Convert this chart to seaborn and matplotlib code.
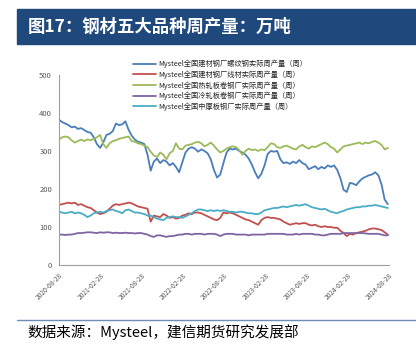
import matplotlib
matplotlib.use('Agg')
import matplotlib.pyplot as plt
import numpy as np
import pandas as pd
import seaborn as sns

dates = pd.date_range('2020-08-28', periods=105, freq='14D')

rebar = [382, 376, 372, 368, 362, 364, 358, 360, 355, 350, 348, 336, 318, 308, 322, 342, 345, 352, 372, 368,
         370, 378, 356, 340, 330, 324, 322, 318, 290, 248, 272, 280, 268, 276, 272, 262, 268, 258, 244, 270,
         296, 306, 310, 306, 298, 304, 300, 294, 278, 250, 230, 238, 268, 296, 306, 304, 306, 300, 296, 290,
         280, 264, 244, 228, 240, 262, 292, 300, 298, 300, 278, 268, 270, 266, 272, 268, 276, 268, 264, 252,
         256, 260, 252, 258, 254, 262, 258, 262, 250, 228, 198, 192, 216, 214, 210, 220, 228, 232, 236, 238,
         244, 236, 212, 172, 160]
wire = [158, 160, 162, 164, 162, 164, 158, 160, 156, 152, 150, 144, 138, 134, 136, 140, 148, 156, 160, 158,
        160, 162, 164, 162, 158, 154, 152, 150, 148, 114, 130, 128, 126, 134, 130, 124, 126, 122, 124, 130,
        132, 136, 134, 138, 138, 136, 132, 128, 124, 120, 118, 124, 138, 136, 138, 136, 132, 128, 124, 120,
        118, 114, 110, 106, 118, 124, 126, 124, 124, 122, 120, 114, 110, 106, 108, 110, 108, 110, 110, 106,
        104, 106, 102, 100, 102, 100, 100, 98, 98, 90, 84, 76, 82, 80, 84, 86, 88, 90, 94, 96,
        96, 94, 92, 86, 80]
hrc = [330, 336, 338, 336, 328, 322, 326, 330, 326, 330, 328, 332, 336, 342, 318, 308, 320, 326, 328, 332,
       334, 336, 338, 326, 324, 320, 318, 314, 310, 298, 288, 284, 296, 290, 278, 294, 300, 320, 306, 304,
       314, 316, 318, 322, 324, 320, 312, 316, 322, 314, 304, 296, 300, 306, 310, 312, 310, 302, 290, 300,
       306, 302, 304, 300, 304, 302, 310, 320, 318, 310, 308, 312, 314, 310, 306, 304, 312, 316, 310, 306,
       312, 310, 314, 318, 322, 318, 310, 306, 296, 304, 312, 314, 316, 318, 320, 322, 318, 322, 320, 324,
       326, 322, 316, 304, 308]
cold = [80, 80, 79, 80, 80, 82, 84, 84, 85, 86, 86, 85, 84, 86, 85, 86, 86, 84, 85, 84,
        84, 85, 84, 84, 83, 84, 84, 82, 80, 76, 74, 78, 78, 76, 74, 76, 76, 78, 80, 80,
        82, 82, 80, 82, 82, 82, 80, 82, 82, 82, 80, 76, 80, 82, 82, 82, 80, 80, 80, 80,
        78, 80, 80, 80, 80, 80, 82, 82, 82, 82, 82, 82, 80, 80, 80, 82, 80, 82, 82, 82,
        82, 80, 80, 78, 78, 80, 82, 82, 82, 82, 84, 84, 84, 84, 84, 84, 84, 83, 82, 82,
        82, 82, 80, 78, 78]
plate = [140, 138, 136, 138, 140, 136, 138, 136, 132, 126, 130, 136, 138, 140, 138, 142, 144, 146, 142, 140,
         136, 144, 146, 142, 138, 138, 136, 134, 130, 130, 126, 122, 120, 118, 124, 126, 128, 126, 126, 124,
         128, 132, 136, 142, 146, 146, 144, 142, 144, 142, 144, 142, 144, 142, 140, 140, 138, 140, 140, 138,
         136, 136, 134, 134, 138, 144, 146, 148, 150, 150, 152, 154, 152, 154, 156, 158, 156, 158, 160, 156,
         152, 150, 148, 146, 148, 144, 140, 138, 136, 140, 142, 146, 148, 150, 152, 152, 154, 154, 156, 156,
         158, 156, 154, 152, 150]

names = ['Mysteel全国建材钢厂螺纹钢实际周产量（周）',
         'Mysteel全国建材钢厂线材实际周产量（周）',
         'Mysteel全国热轧板卷钢厂实际周产量（周）',
         'Mysteel全国冷轧板卷钢厂实际周产量（周）',
         'Mysteel全国中厚板钢厂实际周产量（周）']
colors = ['#4A7EBB', '#C0504D', '#9BBB59', '#8064A2', '#4BACC6']
tick_dates = ['2020-08-28', '2021-02-28', '2021-08-28', '2022-02-28', '2022-08-28',
              '2023-02-28', '2023-08-28', '2024-02-28', '2024-08-28']

df = pd.DataFrame({'date': dates, names[0]: rebar, names[1]: wire, names[2]: hrc,
                   names[3]: cold, names[4]: plate})
long = df.melt(id_vars='date', var_name='series', value_name='value')

sns.set_style('white')
plt.rcParams['font.family'] = ['Noto Sans CJK SC', 'DejaVu Sans']

fig = plt.figure(figsize=(4.16, 3.55), dpi=100)
ax = fig.add_axes([0.1418, 0.2535, 0.7932, 0.5355])

sns.lineplot(data=long, x='date', y='value', hue='series', palette=colors,
             hue_order=names, linewidth=1.3, ax=ax)

ax.set_xlim(pd.Timestamp('2020-08-28'), pd.Timestamp('2024-08-28'))
ax.set_ylim(0, 500)
ax.set_yticks([0, 100, 200, 300, 400, 500])
ax.set_xticks(pd.to_datetime(tick_dates))
ax.set_xticklabels(tick_dates, rotation=45, ha='right', rotation_mode='anchor',
                   fontsize=4.8, color='#595959')
ax.tick_params(axis='y', labelsize=5.5, labelcolor='#595959', length=3, color='#A0A0A0', width=0.6, pad=2)
ax.tick_params(axis='x', length=3, color='#A0A0A0', width=0.6, pad=2)
ax.set_xlabel('')
ax.set_ylabel('')
for s in ['top', 'right']:
    ax.spines[s].set_visible(False)
for s in ['left', 'bottom']:
    ax.spines[s].set_color('#A0A0A0')
    ax.spines[s].set_linewidth(0.8)

handles, labels = ax.get_legend_handles_labels()
ax.legend(handles, labels, loc='upper left', bbox_to_anchor=(130 / 416, 1 - 57 / 355),
          bbox_transform=fig.transFigure, frameon=False, fontsize=5.2, handlelength=3.2,
          handletextpad=0.3, labelspacing=0.3, borderaxespad=0)

# title banner
fig.patches.append(plt.Rectangle((17 / 416, 1 - 44 / 355), 399 / 416, 35 / 355,
                                 transform=fig.transFigure, color='#1F497D', zorder=0))
fig.text(28 / 416, 1 - 27 / 355, '图17：钢材五大品种周产量：万吨', color='white',
         fontsize=12.5, fontweight='bold', va='center', ha='left')

# footer
fig.add_artist(plt.Line2D([17 / 416, 1], [1 - 320 / 355, 1 - 320 / 355],
                          transform=fig.transFigure, color='#6F8DBA', linewidth=1))
fig.text(27 / 416, 1 - 332 / 355, '数据来源：Mysteel，建信期货研究发展部', color='black',
         fontsize=10.5, style='italic', va='center', ha='left')

fig.savefig('out.png', dpi=100)
